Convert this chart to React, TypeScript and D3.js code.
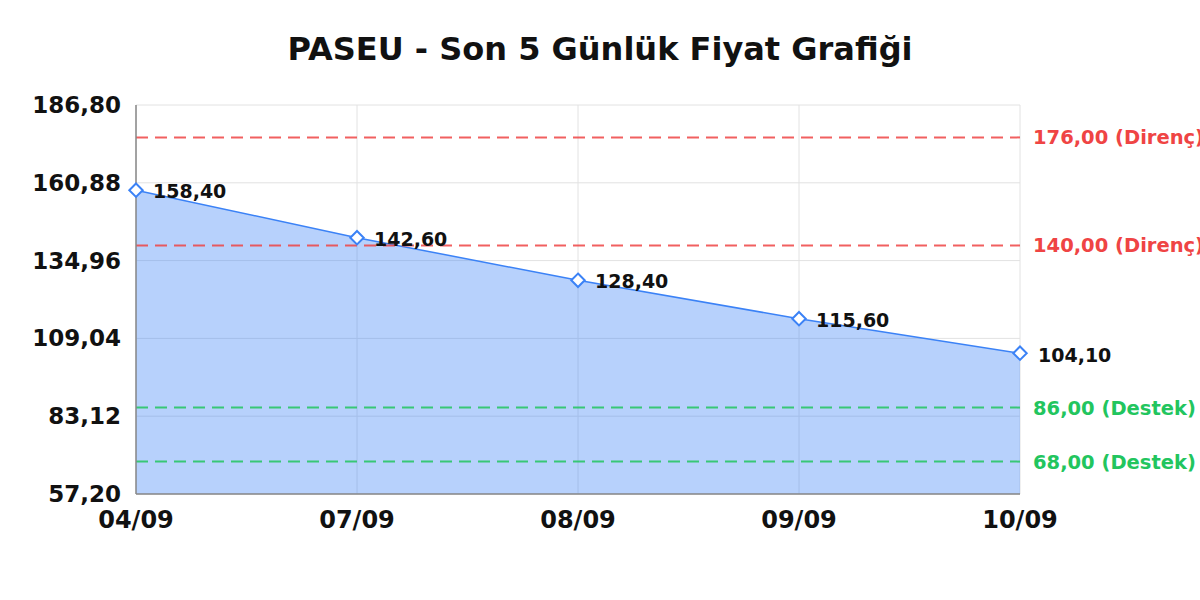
import { useEffect, useRef } from 'react'
import * as d3 from 'd3'

const dates = ['04/09', '07/09', '08/09', '09/09', '10/09']
const prices = [158.4, 142.6, 128.4, 115.6, 104.1]
const yTicks = [57.2, 83.12, 109.04, 134.96, 160.88, 186.8]
const resistance = [176, 140]
const support = [86, 68]

const fmt = (v: number) => v.toFixed(2).replace('.', ',')

export default function App() {
  const svgRef = useRef<SVGSVGElement>(null)

  useEffect(() => {
    if (!svgRef.current) return
    const svg = d3.select(svgRef.current)
    svg.selectAll('*').remove()

    const width = 1200
    const height = 600
    const margin = { top: 105, right: 180, bottom: 106, left: 136 }
    const font = 'DejaVu Sans, sans-serif'

    const x = d3.scalePoint<string>()
      .domain(dates)
      .range([margin.left, width - margin.right])
    const y = d3.scaleLinear()
      .domain([yTicks[0], yTicks[yTicks.length - 1]])
      .range([height - margin.bottom, margin.top])

    const data = dates.map((d, i) => ({ date: d, price: prices[i] }))
    const x0 = margin.left
    const x1 = width - margin.right
    const y0 = height - margin.bottom
    const yTop = margin.top

    svg.append('rect')
      .attr('width', width).attr('height', height).attr('fill', '#fff')

    // Title
    svg.append('text')
      .attr('x', width / 2).attr('y', 60)
      .attr('text-anchor', 'middle')
      .style('font-family', font).style('font-size', '32px').style('font-weight', 'bold')
      .attr('fill', '#111')
      .text('PASEU - Son 5 Günlük Fiyat Grafiği')

    // Grid
    const grid = svg.append('g')
    grid.selectAll('.hg').data(yTicks).enter().append('line')
      .attr('x1', x0).attr('x2', x1)
      .attr('y1', d => y(d)).attr('y2', d => y(d))
      .attr('stroke', '#e2e2e2').attr('stroke-width', 1)
    grid.selectAll('.vg').data(dates).enter().append('line')
      .attr('x1', d => x(d)!).attr('x2', d => x(d)!)
      .attr('y1', yTop).attr('y2', y0)
      .attr('stroke', '#e2e2e2').attr('stroke-width', 1)

    // Area + line
    const area = d3.area<any>()
      .x(d => x(d.date)!)
      .y0(y0)
      .y1(d => y(d.price))
    svg.append('path').datum(data)
      .attr('d', area)
      .attr('fill', 'rgba(59,130,246,0.37)')

    const line = d3.line<any>().x(d => x(d.date)!).y(d => y(d.price))
    svg.append('path').datum(data)
      .attr('d', line)
      .attr('fill', 'none').attr('stroke', '#3b82f6').attr('stroke-width', 1.5)

    // Reference lines (support / resistance)
    const refs = [
      ...resistance.map(v => ({ v, label: `${fmt(v)} (Direnç)`, color: '#ef4444' })),
      ...support.map(v => ({ v, label: `${fmt(v)} (Destek)`, color: '#22c55e' })),
    ]
    refs.forEach(r => {
      svg.append('line')
        .attr('x1', x0).attr('x2', x1)
        .attr('y1', y(r.v)).attr('y2', y(r.v))
        .attr('stroke', r.color).attr('stroke-width', 2)
        .attr('stroke-opacity', 0.85)
        .attr('stroke-dasharray', '12,7')
      svg.append('text')
        .attr('x', x1 + 13).attr('y', y(r.v) + 7)
        .style('font-family', font).style('font-size', '19.5px').style('font-weight', 'bold')
        .attr('fill', r.color)
        .text(r.label)
    })

    // Axes lines
    svg.append('line')
      .attr('x1', x0).attr('x2', x0).attr('y1', yTop).attr('y2', y0)
      .attr('stroke', '#888').attr('stroke-width', 1.5)
    svg.append('line')
      .attr('x1', x0).attr('x2', x1).attr('y1', y0).attr('y2', y0)
      .attr('stroke', '#888').attr('stroke-width', 1.5)

    // Y tick labels
    svg.selectAll('.yl').data(yTicks).enter().append('text')
      .attr('x', x0 - 15).attr('y', d => y(d) + 8)
      .attr('text-anchor', 'end')
      .style('font-family', font).style('font-size', '23px').style('font-weight', 'bold')
      .attr('fill', '#111')
      .text(d => fmt(d))

    // X tick labels
    svg.selectAll('.xl').data(dates).enter().append('text')
      .attr('x', d => x(d)!).attr('y', y0 + 34)
      .attr('text-anchor', 'middle')
      .style('font-family', font).style('font-size', '24px').style('font-weight', 'bold')
      .attr('fill', '#111')
      .text(d => d)

    // Markers
    const diamond = d3.symbol().type(d3.symbolDiamond2).size(115)
    svg.selectAll('.mk').data(data).enter().append('path')
      .attr('d', diamond)
      .attr('transform', d => `translate(${x(d.date)},${y(d.price)})`)
      .attr('fill', '#fff').attr('stroke', '#3b82f6').attr('stroke-width', 2)

    // Value labels
    svg.selectAll('.vl').data(data).enter().append('text')
      .attr('x', (d, i) => x(d.date)! + (i === data.length - 1 ? 18 : 17))
      .attr('y', (d, i) => y(d.price) + (i === data.length - 1 ? 9 : 8))
      .style('font-family', font).style('font-size', '19px').style('font-weight', 'bold')
      .attr('fill', '#111')
      .text(d => fmt(d.price))
  }, [])

  return (
    <svg ref={svgRef} width={1200} height={600} style={{ position: 'absolute', left: 0, top: 0 }}></svg>
  )
}
